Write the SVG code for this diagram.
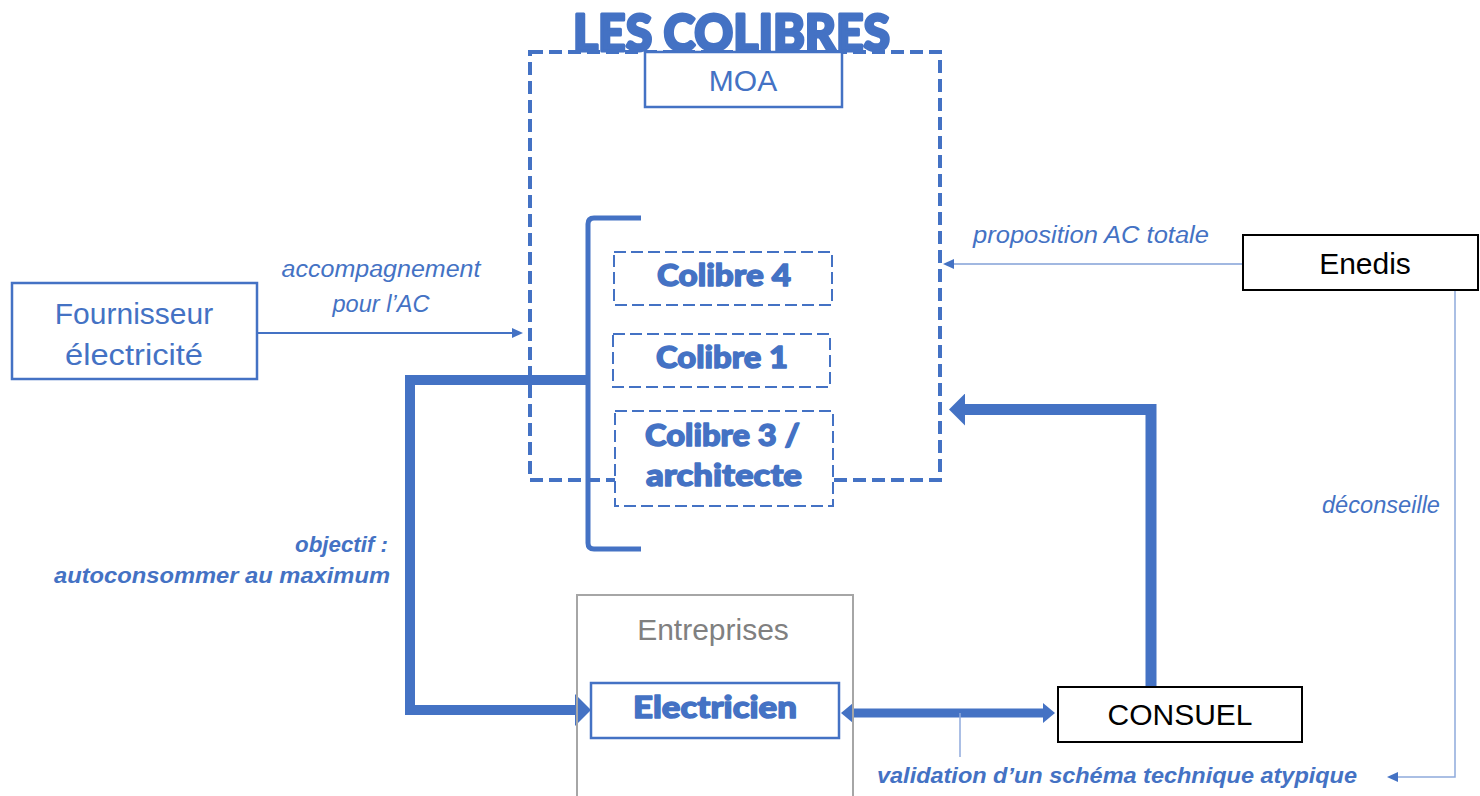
<svg xmlns="http://www.w3.org/2000/svg" width="1480" height="796" viewBox="0 0 1480 796">
<style>
.box{fill:#fff;stroke:#4472C4;stroke-width:2.5}
.bbox{fill:#fff;stroke:#000;stroke-width:2}
.dash{fill:#fff;stroke:#4472C4;stroke-width:2;stroke-dasharray:12 5}
.lbl{font-family:"Liberation Sans",Arial,sans-serif;font-size:30px}
.heavy{font-family:Lato,"DejaVu Sans",sans-serif;font-weight:900;fill:#4472C4;stroke:#4472C4;stroke-width:1.4;stroke-linejoin:round}
.it{font-family:"Liberation Sans",Arial,sans-serif;font-style:italic;font-size:23px;fill:#4472C4}
.bi{font-family:"Liberation Sans",Arial,sans-serif;font-style:italic;font-weight:bold;font-size:22px;fill:#4472C4}
.thick{fill:none;stroke:#4472C4;stroke-linejoin:miter}
.thin{fill:none;stroke:#4472C4}
.pale{fill:none;stroke:#8FAADC;stroke-width:1.5}
</style>
<defs>
<marker id="big" markerUnits="userSpaceOnUse" markerWidth="18" markerHeight="32" refX="2" refY="16" orient="auto"><path d="M0,0 L16,16 L0,32 z" fill="#4472C4"/></marker>
<marker id="mid" markerUnits="userSpaceOnUse" markerWidth="14" markerHeight="20" refX="2" refY="10" orient="auto-start-reverse"><path d="M0,0 L12,10 L0,20 z" fill="#4472C4"/></marker>
<marker id="sm" markerUnits="userSpaceOnUse" markerWidth="12" markerHeight="10" refX="1" refY="5" orient="auto"><path d="M0,0 L11,5 L0,10 z" fill="#4472C4"/></marker>
</defs>
<rect width="1480" height="796" fill="#fff"/>

<g id="les-colibres">
<rect x="530" y="52" width="410" height="428" fill="none" stroke="#4472C4" stroke-width="4" stroke-dasharray="13 6"/>
</g>

<g id="connectors">
<path class="thick" d="M588,380 H410 V710 H577" stroke-width="10" marker-end="url(#big)"/>
<path class="thick" d="M1151,687 V409.5 H963" stroke-width="11" marker-end="url(#big)"/>
<path class="thick" d="M851,713 H1045" stroke-width="9" marker-start="url(#mid)" marker-end="url(#mid)"/>
<path class="thin" d="M258,333 H513" stroke-width="2" marker-end="url(#sm)"/>
<path class="thin" d="M1243,264 H953" stroke-width="1.2" marker-end="url(#sm)"/>
<path class="pale" d="M1455,290 V777 H1397" marker-end="url(#sm)"/>
<path class="pale" d="M960,713 V757"/>
<path d="M641,218 H594 Q588,218 588,224 V543 Q588,549 594,549 H641" fill="none" stroke="#4472C4" stroke-width="5"/>
<text class="it" x="381" y="277" text-anchor="middle" textLength="199" lengthAdjust="spacingAndGlyphs">accompagnement</text>
<text class="it" x="381" y="312" text-anchor="middle" textLength="97" lengthAdjust="spacingAndGlyphs">pour l’AC</text>
<text class="it" x="973" y="243" textLength="236" lengthAdjust="spacingAndGlyphs">proposition AC totale</text>
<text class="it" x="1440" y="513" text-anchor="end" textLength="118" lengthAdjust="spacingAndGlyphs">déconseille</text>
<text class="bi" x="388" y="552" text-anchor="end" textLength="93" lengthAdjust="spacingAndGlyphs">objectif :</text>
<text class="bi" x="390" y="583" text-anchor="end" textLength="336" lengthAdjust="spacingAndGlyphs">autoconsommer au maximum</text>
<text class="bi" x="877" y="783" textLength="480" lengthAdjust="spacingAndGlyphs">validation d’un schéma technique atypique</text>
</g>

<g id="moa">
<rect class="box" x="645" y="52" width="197" height="55"/>
<text class="lbl" x="743" y="91" text-anchor="middle" fill="#4472C4">MOA</text>
</g>
<g id="colibre4">
<rect class="dash" x="614" y="252" width="218" height="53"/>
<text class="heavy" x="657" y="286" font-size="31" textLength="134" lengthAdjust="spacingAndGlyphs">Colibre 4</text>
</g>
<g id="colibre1">
<rect class="dash" x="613" y="334" width="217" height="53"/>
<text class="heavy" x="656" y="368" font-size="31" textLength="132" lengthAdjust="spacingAndGlyphs">Colibre 1</text>
</g>
<g id="colibre3">
<rect class="dash" x="615" y="411" width="218" height="95"/>
<text class="heavy" x="645" y="446" font-size="31" textLength="155" lengthAdjust="spacingAndGlyphs">Colibre 3 /</text>
<text class="heavy" x="646" y="486" font-size="31" textLength="156" lengthAdjust="spacingAndGlyphs">architecte</text>
</g>
<g id="fournisseur">
<rect class="box" x="12" y="283" width="245" height="96"/>
<text class="lbl" x="134" y="324" text-anchor="middle" fill="#4472C4">Fournisseur</text>
<text class="lbl" x="134" y="365" text-anchor="middle" fill="#4472C4" textLength="138" lengthAdjust="spacingAndGlyphs">électricité</text>
</g>
<g id="enedis">
<rect class="bbox" x="1243" y="235" width="235" height="55"/>
<text class="lbl" x="1365" y="274" text-anchor="middle" fill="#000">Enedis</text>
</g>
<g id="entreprises">
<rect x="577" y="595" width="276" height="220" fill="none" stroke="#A6A6A6" stroke-width="2"/>
<text class="lbl" x="713" y="640" text-anchor="middle" fill="#808080">Entreprises</text>
</g>
<g id="electricien">
<rect class="box" x="591" y="683" width="248" height="55"/>
<text class="heavy" x="633" y="718" font-size="31" textLength="164" lengthAdjust="spacingAndGlyphs">Electricien</text>
</g>
<g id="consuel">
<rect class="bbox" x="1058" y="687" width="244" height="55"/>
<text class="lbl" x="1180" y="725" text-anchor="middle" fill="#000" font-size="28">CONSUEL</text>
</g>
<g id="title">
<text class="heavy" x="573" y="51" font-size="52" textLength="317" lengthAdjust="spacingAndGlyphs" style="stroke-width:3">LES COLIBRES</text>
</g>
</svg>
